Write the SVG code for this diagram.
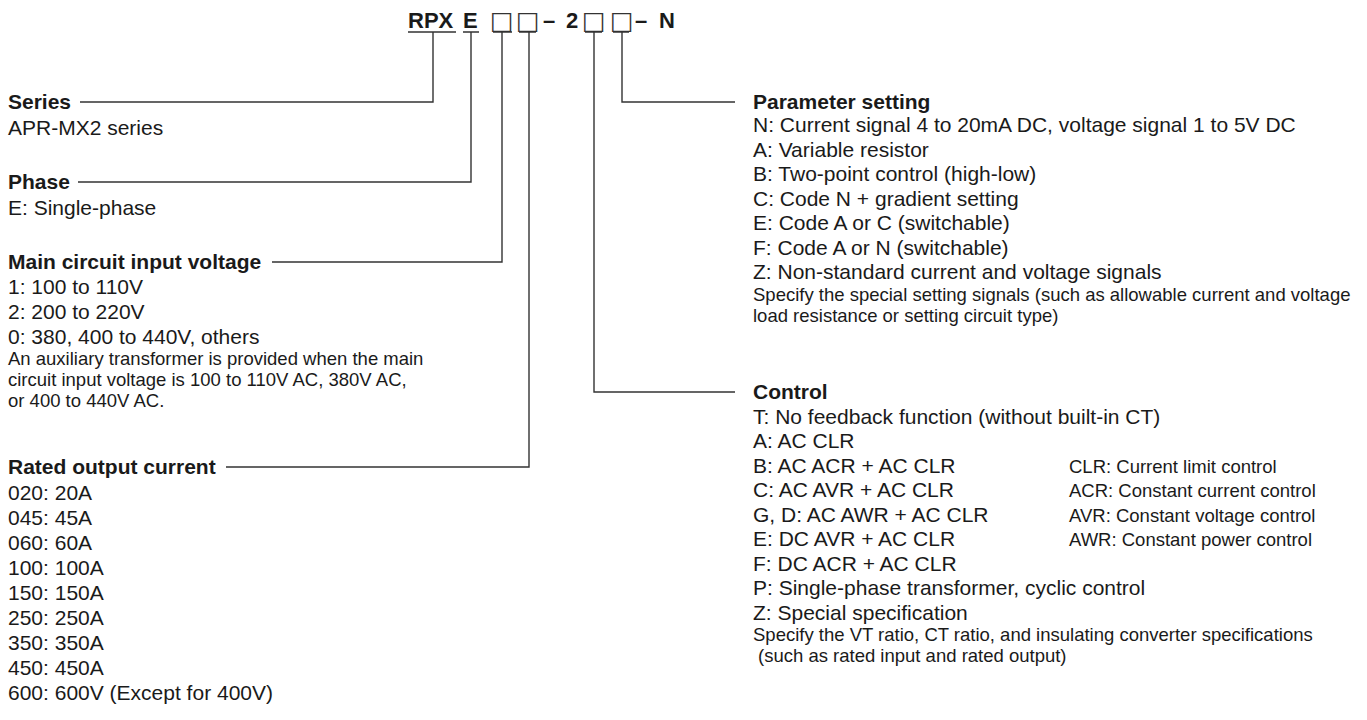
<svg xmlns="http://www.w3.org/2000/svg" width="1367" height="720" viewBox="0 0 1367 720">
<style>
text{font-family:"Liberation Sans",Arial,Helvetica,sans-serif;fill:#1a1a1a}
.h{font-size:21px;font-weight:bold}
.n{font-size:21px}
.s{font-size:18.5px}
.code{font-size:22px;font-weight:bold}
.box{font-family:"DejaVu Sans",sans-serif;font-size:25px;font-weight:normal;fill:#333}
.ln{stroke:#333;stroke-width:1.4;fill:none}
</style>
<rect width="1367" height="720" fill="#fff"/>
<g id="model-code">
<text class="code" x="408" y="28">RPX</text>
<text class="code" x="463" y="28">E</text>
<text class="box" x="490" y="29">□</text>
<text class="box" x="516" y="29">□</text>
<text class="code" x="543" y="28">–</text>
<text class="code" x="566" y="28">2</text>
<text class="box" x="582" y="29">□</text>
<text class="box" x="610" y="29">□</text>
<text class="code" x="635" y="28">–</text>
<text class="code" x="659" y="28">N</text>
</g>
<g id="connectors">
<path class="ln" d="M408 32H456M463 32H479M493 32H512M519 32H536M585 32H602M613 32H629"/>
<path class="ln" d="M433 32V102H80"/>
<path class="ln" d="M471 32V182H78"/>
<path class="ln" d="M502 32V262H272"/>
<path class="ln" d="M529 32V467H226"/>
<path class="ln" d="M622 32V102H735"/>
<path class="ln" d="M594 32V392H735"/>
</g>
<g id="series">
<text class="h" x="8" y="109">Series</text>
<text class="n" x="8" y="135">APR-MX2 series</text>
</g>
<g id="phase">
<text class="h" x="8" y="189">Phase</text>
<text class="n" x="8" y="215">E: Single-phase</text>
</g>
<g id="main-circuit-input-voltage">
<text class="h" x="8" y="269">Main circuit input voltage</text>
<text class="n" x="8" y="294">1: 100 to 110V</text>
<text class="n" x="8" y="319">2: 200 to 220V</text>
<text class="n" x="8" y="344">0: 380, 400 to 440V, others</text>
<text class="s" x="8" y="365">An auxiliary transformer is provided when the main</text>
<text class="s" x="8" y="386">circuit input voltage is 100 to 110V AC, 380V AC,</text>
<text class="s" x="8" y="407">or 400 to 440V AC.</text>
</g>
<g id="rated-output-current">
<text class="h" x="8" y="474">Rated output current</text>
<text class="n" x="8" y="500">020: 20A</text>
<text class="n" x="8" y="525">045: 45A</text>
<text class="n" x="8" y="550">060: 60A</text>
<text class="n" x="8" y="575">100: 100A</text>
<text class="n" x="8" y="600">150: 150A</text>
<text class="n" x="8" y="625">250: 250A</text>
<text class="n" x="8" y="650">350: 350A</text>
<text class="n" x="8" y="675">450: 450A</text>
<text class="n" x="8" y="700">600: 600V (Except for 400V)</text>
</g>
<g id="parameter-setting">
<text class="h" x="753" y="109">Parameter setting</text>
<text class="n" x="753" y="132">N: Current signal 4 to 20mA DC, voltage signal 1 to 5V DC</text>
<text class="n" x="753" y="157">A: Variable resistor</text>
<text class="n" x="753" y="181">B: Two-point control (high-low)</text>
<text class="n" x="753" y="206">C: Code N + gradient setting</text>
<text class="n" x="753" y="230">E: Code A or C (switchable)</text>
<text class="n" x="753" y="255">F: Code A or N (switchable)</text>
<text class="n" x="753" y="279">Z: Non-standard current and voltage signals</text>
<text class="s" x="753" y="301">Specify the special setting signals (such as allowable current and voltage</text>
<text class="s" x="753" y="322">load resistance or setting circuit type)</text>
</g>
<g id="control">
<text class="h" x="753" y="399">Control</text>
<text class="n" x="753" y="424">T: No feedback function (without built-in CT)</text>
<text class="n" x="753" y="448">A: AC CLR</text>
<text class="n" x="753" y="473">B: AC ACR + AC CLR</text>
<text class="n" x="753" y="497">C: AC AVR + AC CLR</text>
<text class="n" x="753" y="522">G, D: AC AWR + AC CLR</text>
<text class="n" x="753" y="546">E: DC AVR + AC CLR</text>
<text class="n" x="753" y="571">F: DC ACR + AC CLR</text>
<text class="n" x="753" y="595">P: Single-phase transformer, cyclic control</text>
<text class="n" x="753" y="620">Z: Special specification</text>
<text class="s" x="753" y="641">Specify the VT ratio, CT ratio, and insulating converter specifications</text>
<text class="s" x="758" y="662">(such as rated input and rated output)</text>
</g>
<g id="control-legend">
<text class="s" x="1069" y="473">CLR: Current limit control</text>
<text class="s" x="1069" y="497">ACR: Constant current control</text>
<text class="s" x="1069" y="522">AVR: Constant voltage control</text>
<text class="s" x="1069" y="546">AWR: Constant power control</text>
</g>
</svg>
